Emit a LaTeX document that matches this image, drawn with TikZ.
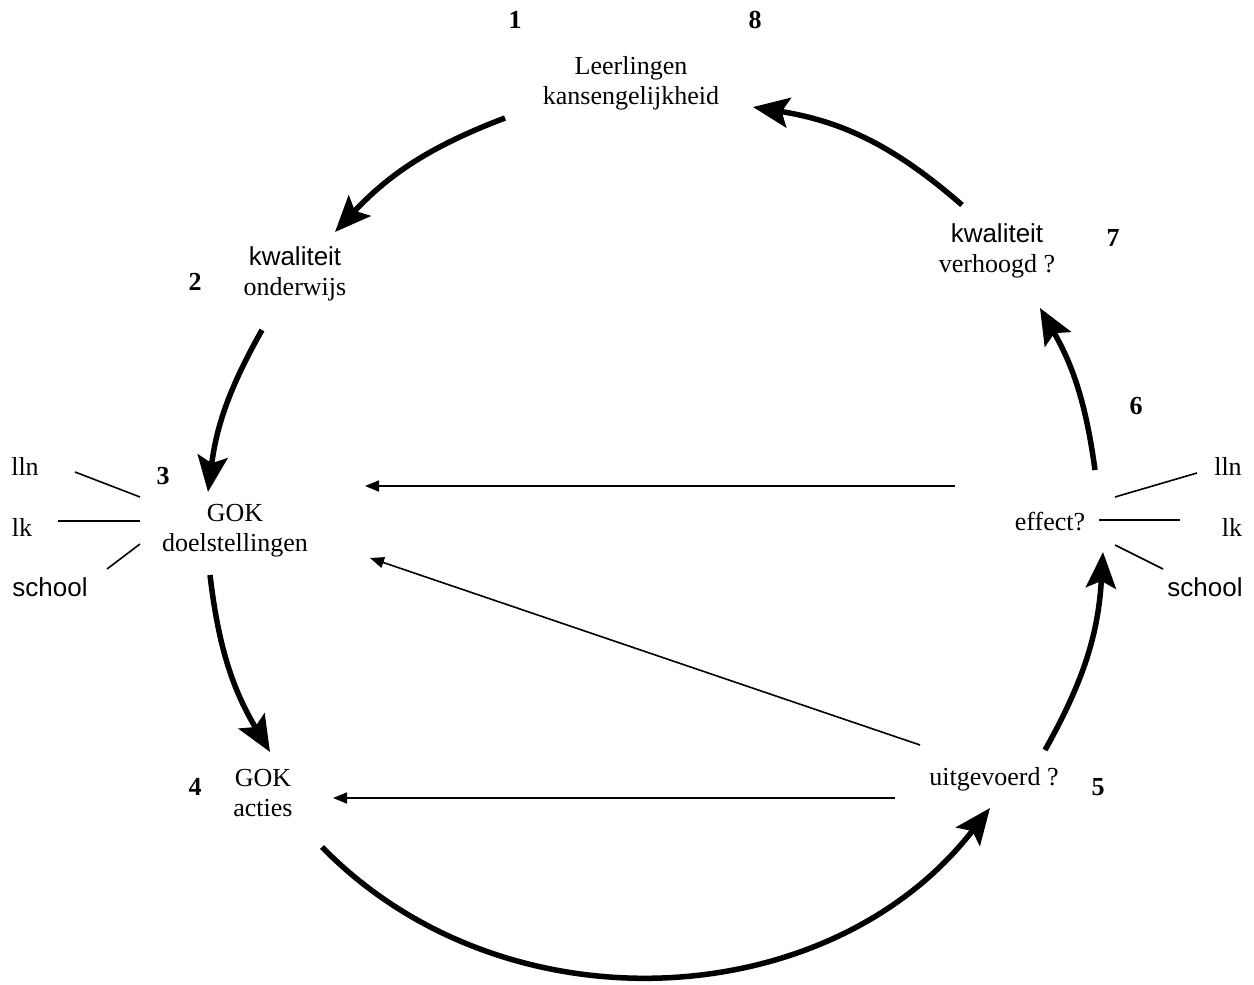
\documentclass[tikz,border=0pt]{standalone}
\usepackage{fontspec}
\setmainfont{Liberation Serif}
\setsansfont{Liberation Sans}
\usetikzlibrary{arrows.meta}
\begin{document}
\begin{tikzpicture}[x=1pt,y=1pt,
  txt/.style={font=\fontsize{26}{30}\selectfont, align=center, inner sep=0pt},
  num/.style={font=\fontsize{26}{30}\selectfont\bfseries, inner sep=0pt},
  cyc/.style={line width=5.5pt, -{Stealth[length=36pt,width=30pt,inset=7pt]}},
  back/.style={line width=1.6pt, -{Triangle[length=14pt,width=11pt]}},
  tick/.style={line width=1.6pt}]
\useasboundingbox (0,0) rectangle (1254,-985);
% text nodes
\node[txt] (lead) at (631,-83) {Leerlingen\\kansengelijkheid};
\node[txt] (kwo) at (295,-274) {{\sffamily kwaliteit}\\onderwijs};
\node[txt] (goal) at (235,-531) {GOK\\doelstellingen};
\node[txt] (act) at (263,-793) {GOK\\acties};
\node[txt] (uit) at (994,-779) {uitgevoerd ?};
\node[txt] (eff) at (1050,-522) {effect?};
\node[txt] (kwv) at (997,-251) {{\sffamily kwaliteit}\\verhoogd ?};
% numbers
\node[num] (n1) at (515,-20) {1};
\node[num] (n8) at (755,-20) {8};
\node[num] (n2) at (195,-282) {2};
\node[num] (n3) at (163,-476) {3};
\node[num] (n4) at (195,-787) {4};
\node[num] (n5) at (1098,-787) {5};
\node[num] (n6) at (1136,-406) {6};
\node[num] (n7) at (1113,-238) {7};
% side labels
\node[txt] (llnL) at (25,-466) {lln};
\node[txt] (lkL) at (22,-527) {lk};
\node[txt,font=\fontsize{26}{30}\selectfont\sffamily] (schL) at (50,-587) {school};
\node[txt] (llnR) at (1228,-466) {lln};
\node[txt] (lkR) at (1232,-527) {lk};
\node[txt,font=\fontsize{26}{30}\selectfont\sffamily] (schR) at (1205,-587) {school};
% tick coordinates
\coordinate (tl1a) at (75,-472); \coordinate (tl1b) at (140,-497);
\coordinate (tl2a) at (58,-521); \coordinate (tl2b) at (140,-521);
\coordinate (tl3a) at (107,-569); \coordinate (tl3b) at (140,-544);
\coordinate (tr1a) at (1115,-497); \coordinate (tr1b) at (1197,-473);
\coordinate (tr2a) at (1099,-520); \coordinate (tr2b) at (1180,-520);
\coordinate (tr3a) at (1115,-545); \coordinate (tr3b) at (1163,-569);
\draw[tick] (tl1a) -- (tl1b);
\draw[tick] (tl2a) -- (tl2b);
\draw[tick] (tl3a) -- (tl3b);
\draw[tick] (tr1a) -- (tr1b);
\draw[tick] (tr2a) -- (tr2b);
\draw[tick] (tr3a) -- (tr3b);
% cycle arrow coordinates
\coordinate (a1s) at (505,-118); \coordinate (a1e) at (335,-232);
\coordinate (a2s) at (262,-330); \coordinate (a2e) at (208,-492);
\coordinate (a3s) at (210,-575); \coordinate (a3e) at (270,-752);
\coordinate (a4s) at (322,-847); \coordinate (a4e) at (990,-808);
\coordinate (a5s) at (1045,-750); \coordinate (a5e) at (1103,-552);
\coordinate (a6s) at (1095,-470); \coordinate (a6e) at (1040,-308);
\coordinate (a7s) at (962,-205); \coordinate (a7e) at (753,-107);
\draw[cyc] (a1s) to[bend right=13] (a1e);
\draw[cyc] (a2s) to[bend right=11] (a2e);
\draw[cyc] (a3s) to[bend right=12] (a3e);
\draw[cyc] (a4s) to[bend right=49] (a4e);
\draw[cyc] (a5s) to[bend right=13] (a5e);
\draw[cyc] (a6s) to[bend right=11] (a6e);
\draw[cyc] (a7s) to[bend right=16] (a7e);
% feedback arrows
\coordinate (b1s) at (955,-486); \coordinate (b1e) at (365,-486);
\coordinate (b2s) at (895,-798); \coordinate (b2e) at (333,-798);
\coordinate (b3s) at (920,-745); \coordinate (b3e) at (370,-558);
\draw[back] (b1s) -- (b1e);
\draw[back] (b2s) -- (b2e);
\draw[back] (b3s) -- (b3e);
\end{tikzpicture}
\end{document}
